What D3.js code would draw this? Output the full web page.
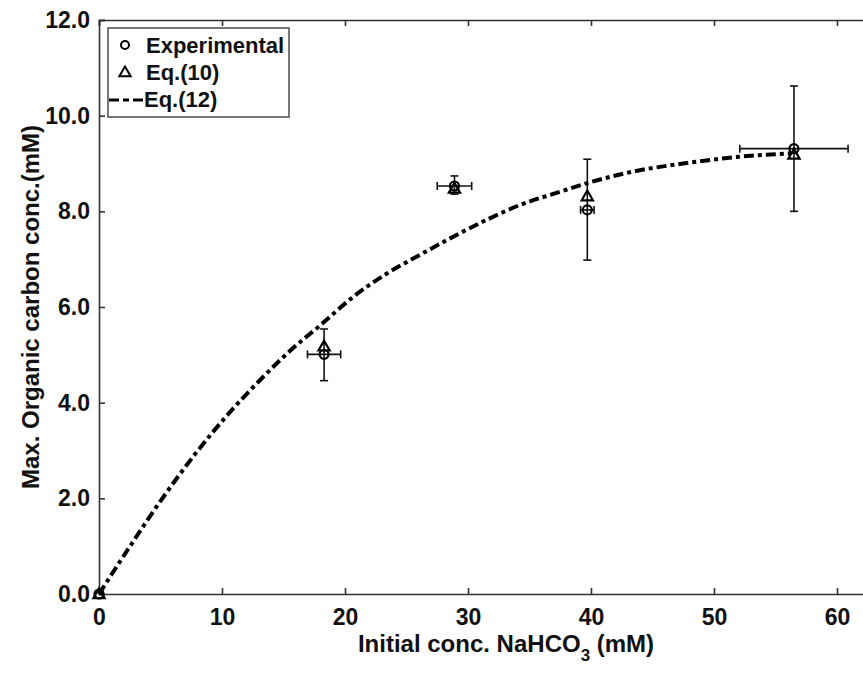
<!DOCTYPE html>
<html>
<head>
<meta charset="utf-8">
<script src="https://cdn.jsdelivr.net/npm/d3@7"></script>
<style>
  body { margin: 0; background: #fff; }
  svg { display: block; font-family: "Liberation Sans", Arial, sans-serif; font-weight: bold; }
</style>
</head>
<body>
<div id="chart"></div>
<script>
// experimental points
var concX = [0, 18.3, 28.9, 39.7, 56.5];
var expY = [0, 5.01, 8.53, 8.03, 9.31];
var eq10Y = [0, 5.18, 8.48, 8.32, 9.19];
var xErr = [0, 1.35, 1.4, 0.55, 4.4];
var yErrLow = [0, 4.46, 8.36, 6.98, 8.0];
var yErrHigh = [0, 5.54, 8.74, 9.09, 10.62];

// Eq.(12) curve
var curveX = [0, 2.4, 5.1, 7.8, 10.5, 13.2, 15.6, 18.0, 20.7, 23.4, 26.1, 28.8, 31.5, 34.2, 37.5, 39.7, 43.4, 47.5, 51.6, 56.2];
var curveY = [0, 0.95, 1.98, 2.92, 3.76, 4.5, 5.1, 5.62, 6.22, 6.7, 7.09, 7.47, 7.82, 8.13, 8.41, 8.59, 8.83, 9.0, 9.13, 9.21];

var xTicks = [0, 10, 20, 30, 40, 50, 60];
var yTicks = [0, 2, 4, 6, 8, 10, 12];

var W = 863, H = 673;
var margin = {top: 20, left: 99};
var height = 574;

var svg = d3.select("#chart")
            .append("svg")
            .attr("width", W)
            .attr("height", H);

var g = svg.append("g")
           .attr("transform", "translate(" + margin.left + "," + margin.top + ")");

var xScale = d3.scaleLinear().domain([0, 65]).range([0, 65 * 12.3]);
var yScale = d3.scaleLinear().domain([0, 12]).range([height, 0]);

// axes
var xAxis = d3.axisBottom(xScale).tickValues(xTicks).tickSize(-6).tickPadding(15);
var yAxis = d3.axisLeft(yScale).tickValues(yTicks).tickSize(-6).tickPadding(9)
              .tickFormat(d3.format(".1f"));
var topAxis = d3.axisTop(xScale).tickValues(xTicks).tickSize(-6).tickFormat("");

g.append("g")
 .attr("class", "x axis")
 .attr("transform", "translate(0," + height + ")")
 .call(xAxis);
g.append("g").attr("class", "y axis").call(yAxis);
g.append("g").attr("class", "top axis").call(topAxis);

g.selectAll(".axis path, .axis line")
 .attr("stroke", "#333")
 .attr("stroke-width", 1.6);
g.selectAll(".axis text")
 .attr("fill", "#111")
 .style("font-size", "23px")
 .style("font-weight", "bold");

// curve Eq.(12)
var line = d3.line()
             .x(function(d) { return xScale(d[0]); })
             .y(function(d) { return yScale(d[1]); })
             .curve(d3.curveMonotoneX);

g.append("path")
 .datum(d3.zip(curveX, curveY))
 .attr("d", line)
 .attr("fill", "none")
 .attr("stroke", "#000")
 .attr("stroke-width", 4)
 .attr("stroke-dasharray", "10,4,4,4");

// error bars
var pts = concX.map(function(x, i) {
  return {x: x, e: expY[i], q: eq10Y[i], xe: xErr[i], lo: yErrLow[i], hi: yErrHigh[i]};
}).filter(function(d) { return d.x > 0; });

var cap = 4;
var bars = g.selectAll(".err").data(pts).enter().append("g").attr("class", "err")
            .attr("stroke", "#111").attr("stroke-width", 1.6);
bars.append("line")
    .attr("x1", function(d) { return xScale(d.x); })
    .attr("x2", function(d) { return xScale(d.x); })
    .attr("y1", function(d) { return yScale(d.lo); })
    .attr("y2", function(d) { return yScale(d.hi); });
bars.append("line")
    .attr("x1", function(d) { return xScale(d.x) - cap; })
    .attr("x2", function(d) { return xScale(d.x) + cap; })
    .attr("y1", function(d) { return yScale(d.lo); })
    .attr("y2", function(d) { return yScale(d.lo); });
bars.append("line")
    .attr("x1", function(d) { return xScale(d.x) - cap; })
    .attr("x2", function(d) { return xScale(d.x) + cap; })
    .attr("y1", function(d) { return yScale(d.hi); })
    .attr("y2", function(d) { return yScale(d.hi); });
bars.append("line")
    .attr("x1", function(d) { return xScale(d.x - d.xe); })
    .attr("x2", function(d) { return xScale(d.x + d.xe); })
    .attr("y1", function(d) { return yScale(d.e); })
    .attr("y2", function(d) { return yScale(d.e); });
bars.append("line")
    .attr("x1", function(d) { return xScale(d.x - d.xe); })
    .attr("x2", function(d) { return xScale(d.x - d.xe); })
    .attr("y1", function(d) { return yScale(d.e) - cap; })
    .attr("y2", function(d) { return yScale(d.e) + cap; });
bars.append("line")
    .attr("x1", function(d) { return xScale(d.x + d.xe); })
    .attr("x2", function(d) { return xScale(d.x + d.xe); })
    .attr("y1", function(d) { return yScale(d.e) - cap; })
    .attr("y2", function(d) { return yScale(d.e) + cap; });

// markers
var tri = d3.symbol().type(d3.symbolTriangle).size(55);

g.selectAll(".tri")
 .data(d3.zip(concX, eq10Y))
 .enter().append("path")
 .attr("class", "tri")
 .attr("d", tri)
 .attr("transform", function(d) { return "translate(" + xScale(d[0]) + "," + (yScale(d[1]) + 1) + ")"; })
 .attr("fill", "none")
 .attr("stroke", "#000")
 .attr("stroke-width", 2.2);

g.selectAll(".circ")
 .data(d3.zip(concX, expY))
 .enter().append("circle")
 .attr("class", "circ")
 .attr("cx", function(d) { return xScale(d[0]); })
 .attr("cy", function(d) { return yScale(d[1]); })
 .attr("r", 4.5)
 .attr("fill", "none")
 .attr("stroke", "#000")
 .attr("stroke-width", 2.2);

// axis titles
var xt = svg.append("text")
            .attr("x", 506)
            .attr("y", 652)
            .attr("text-anchor", "middle")
            .style("font-size", "24px")
            .attr("fill", "#111");
xt.append("tspan").text("Initial conc. NaHCO");
xt.append("tspan").attr("dy", 9).style("font-size", "17px").text("3");
xt.append("tspan").attr("dy", -9).text(" (mM)");

svg.append("text")
   .attr("transform", "translate(39," + (margin.top + height / 2) + ") rotate(-90)")
   .attr("text-anchor", "middle")
   .style("font-size", "24px")
   .attr("fill", "#111")
   .text("Max. Organic carbon conc.(mM)");

// legend
var lg = svg.append("g").attr("transform", "translate(108,28)");
lg.append("rect")
  .attr("width", 181).attr("height", 89)
  .attr("fill", "#fff")
  .attr("stroke", "#555")
  .attr("stroke-width", 1.6);
lg.append("circle")
  .attr("cx", 17).attr("cy", 17).attr("r", 4)
  .attr("fill", "none").attr("stroke", "#000").attr("stroke-width", 2);
lg.append("path")
  .attr("d", tri).attr("transform", "translate(17,45)")
  .attr("fill", "none").attr("stroke", "#000").attr("stroke-width", 2);
lg.append("line")
  .attr("x1", 1).attr("x2", 36).attr("y1", 72).attr("y2", 72)
  .attr("stroke", "#000").attr("stroke-width", 3)
  .attr("stroke-dasharray", "10,4,6,4");
var legText = ["Experimental", "Eq.(10)", "Eq.(12)"];
lg.selectAll(".lt")
  .data(legText)
  .enter().append("text")
  .attr("x", function(d, i) { return i < 2 ? 38 : 36; })
  .attr("y", function(d, i) { return 25 + i * 27; })
  .style("font-size", "22px")
  .attr("fill", "#111")
  .text(function(d) { return d; });
</script>
</body>
</html>
